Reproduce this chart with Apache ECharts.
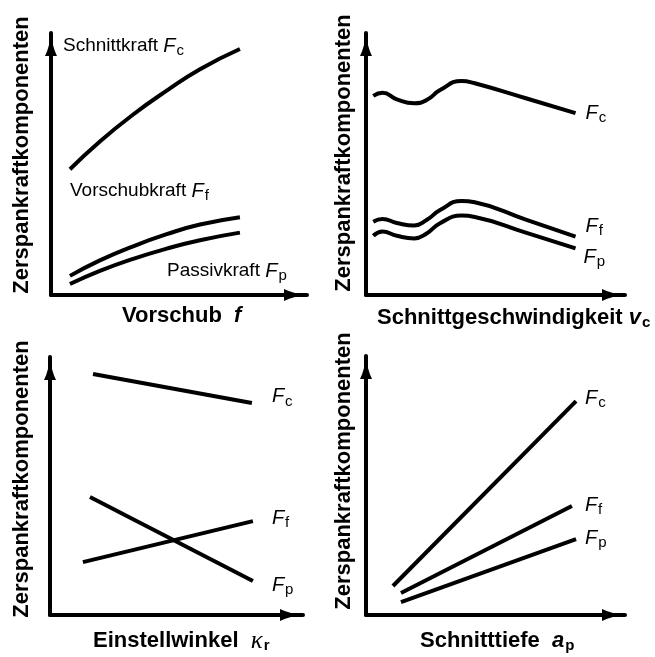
<!DOCTYPE html>
<html>
<head>
<meta charset="utf-8">
<script src="https://cdn.jsdelivr.net/npm/echarts@6/dist/echarts.min.js"></script>
<style>
html,body{margin:0;padding:0;background:#fff;}
#chart{width:655px;height:657px;}
</style>
</head>
<body>
<div id="chart"></div>
<script>
// ---- Data (arbitrary units 0..100 on every axis) ----
// Panel 1: Vorschub f
const feedX  = [7.4, 19.1, 32.1, 45.2, 58.2, 73.8];
const feedFc = [48.0, 58.6, 68.9, 78.0, 86.2, 93.9];
const feedFf = [7.3, 13.2, 18.6, 23.2, 26.9, 29.7];
const feedFp = [4.2, 9.2, 13.8, 17.7, 20.9, 23.8];
// Panel 2: Schnittgeschwindigkeit vc
const speedX  = [2.8, 6.4, 11.9, 18.6, 23.4, 28.6, 36.9, 42.0, 61.7, 80.9];
const speedFc = [76.0, 77.2, 74.7, 73.2, 74.4, 78.2, 81.7, 80.8, 75.1, 69.4];
const speedFf = [28.0, 29.0, 27.5, 26.5, 28.6, 32.4, 35.9, 35.4, 28.8, 22.3];
const speedFp = [22.6, 24.2, 22.6, 21.6, 23.5, 27.4, 30.3, 29.8, 23.8, 17.8];
// Panel 3: Einstellwinkel kappa_r
const angleFcX = [17.0, 79.8], angleFcY = [93.4, 82.2];
const angleFfX = [13.0, 80.2], angleFfY = [20.5, 36.4];
const angleFpX = [15.8, 80.2], angleFpY = [45.7, 13.2];
// Panel 4: Schnitttiefe ap
const depthFcX = [10.4, 81.1], depthFcY = [11.2, 82.6];
const depthFfX = [13.5, 79.5], depthFfY = [8.5, 42.1];
const depthFpX = [13.5, 81.1], depthFpY = [5.0, 29.3];

const yTitle = 'Zerspankraftkomponenten';
const forceSubs = ['c', 'f', 'p'];

// ---- Helpers ----
const FONT = '"Liberation Sans", Arial, sans-serif';
const zip = (xs, ys) => xs.map((x, i) => [x, ys[i]]);

const fRich = {
  i: { fontFamily: FONT, fontStyle: 'italic', fontSize: 20, color: '#000' },
  s: { fontFamily: FONT, fontSize: 15, color: '#000', padding: [9, 0, 0, 1] }
};

const grids = [
  { left: 51,  top: 33,  width: 256, height: 262 },
  { left: 366, top: 33,  width: 259, height: 262 },
  { left: 50,  top: 357, width: 253, height: 258 },
  { left: 366, top: 356, width: 259, height: 259 }
];

function axisLine() {
  return {
    show: true, onZero: false,
    lineStyle: { color: '#000', width: 4 },
    symbol: ['none', 'path://M6,0 Q7,14 12,24 L0,24 Q5,14 6,0 Z'],
    symbolSize: [12, 25],
    symbolOffset: [0, -11]
  };
}
function axis(i) {
  return {
    type: 'value', gridIndex: i, min: 0, max: 100,
    axisLine: axisLine(), axisTick: { show: false }, axisLabel: { show: false },
    splitLine: { show: false }
  };
}

function lineSeries(grid, data, smooth, label, labelOffset, dist) {
  const s = {
    type: 'line', xAxisIndex: grid, yAxisIndex: grid, data: data,
    smooth: smooth,
    showSymbol: false, symbol: 'none',
    lineStyle: { color: '#000', width: 4, cap: 'butt' },
    silent: true
  };
  if (label) {
    s.endLabel = {
      show: true, formatter: '{i|F}{s|' + label + '}', rich: fRich,
      distance: dist, offset: labelOffset
    };
  }
  return s;
}

const series = [
  lineSeries(0, zip(feedX, feedFc), 0.5),
  lineSeries(0, zip(feedX, feedFf), 0.5),
  lineSeries(0, zip(feedX, feedFp), 0.5),

  lineSeries(1, zip(speedX, speedFc), 0.5, forceSubs[0], [0, 0], 10),
  lineSeries(1, zip(speedX, speedFf), 0.5, forceSubs[1], [0, -10], 10),
  lineSeries(1, zip(speedX, speedFp), 0.5, forceSubs[2], [0, 9], 8),

  lineSeries(2, zip(angleFcX, angleFcY), false, forceSubs[0], [0, -6], 20),
  lineSeries(2, zip(angleFfX, angleFfY), false, forceSubs[1], [0, -3], 19),
  lineSeries(2, zip(angleFpX, angleFpY), false, forceSubs[2], [0, 4], 19),

  lineSeries(3, zip(depthFcX, depthFcY), false, forceSubs[0], [0, -3], 9),
  lineSeries(3, zip(depthFfX, depthFfY), false, forceSubs[1], [0, -1], 13),
  lineSeries(3, zip(depthFpX, depthFpY), false, forceSubs[2], [0, -1], 9)
];

const boldRich = {
  b:  { fontFamily: FONT, fontWeight: 'bold', fontSize: 22, fill: '#000' },
  bi: { fontFamily: FONT, fontWeight: 'bold', fontStyle: 'italic', fontSize: 22, fill: '#000' },
  bs: { fontFamily: FONT, fontWeight: 'bold', fontSize: 15, fill: '#000', padding: [10, 0, 0, 1] },
  k:  { fontFamily: '"Liberation Serif", "Times New Roman", serif', fontStyle: 'italic', fontSize: 25, fill: '#000' }
};
const regRich = {
  r: { fontFamily: FONT, fontSize: 19, fill: '#000' },
  i: { fontFamily: FONT, fontStyle: 'italic', fontSize: 20, fill: '#000' },
  s: { fontFamily: FONT, fontSize: 15, fill: '#000', padding: [9, 0, 0, 1] }
};

function ytitle(x, y) {
  return { type: 'text', x: x, y: y, rotation: Math.PI / 2, silent: true,
    style: { text: yTitle, font: 'bold 22px ' + FONT, fill: '#000', align: 'center', verticalAlign: 'middle' } };
}
function rtext(x, y, text, rich, font) {
  return { type: 'text', x: x, y: y, silent: true,
    style: { text: text, rich: rich, font: font, fill: '#000', align: 'left', verticalAlign: 'middle' } };
}

const graphics = [
  ytitle(22, 155), ytitle(344, 153), ytitle(22, 479), ytitle(344, 471),
  rtext(122, 316, '{b|Vorschub}  {bi|f}', boldRich, 'bold 22px ' + FONT),
  rtext(377, 318, '{b|Schnittgeschwindigkeit} {bi|v}{bs|c}', boldRich, 'bold 22px ' + FONT),
  rtext(93, 641, '{b|Einstellwinkel}  {k|κ}{bs|r}', boldRich, 'bold 22px ' + FONT),
  rtext(420, 641, '{b|Schnitttiefe}  {bi|a}{bs|p}', boldRich, 'bold 22px ' + FONT),
  rtext(63, 46, '{r|Schnittkraft} {i|F}{s|c}', regRich, '19px ' + FONT),
  rtext(70, 191, '{r|Vorschubkraft} {i|F}{s|f}', regRich, '19px ' + FONT),
  rtext(167, 271, '{r|Passivkraft} {i|F}{s|p}', regRich, '19px ' + FONT)
];

const chart = echarts.init(document.getElementById('chart'), null, { renderer: 'canvas' });
chart.setOption({
  backgroundColor: '#fff',
  animation: false,
  grid: grids,
  xAxis: [axis(0), axis(1), axis(2), axis(3)],
  yAxis: [axis(0), axis(1), axis(2), axis(3)],
  series: series,
  graphic: graphics
});
</script>
</body>
</html>
